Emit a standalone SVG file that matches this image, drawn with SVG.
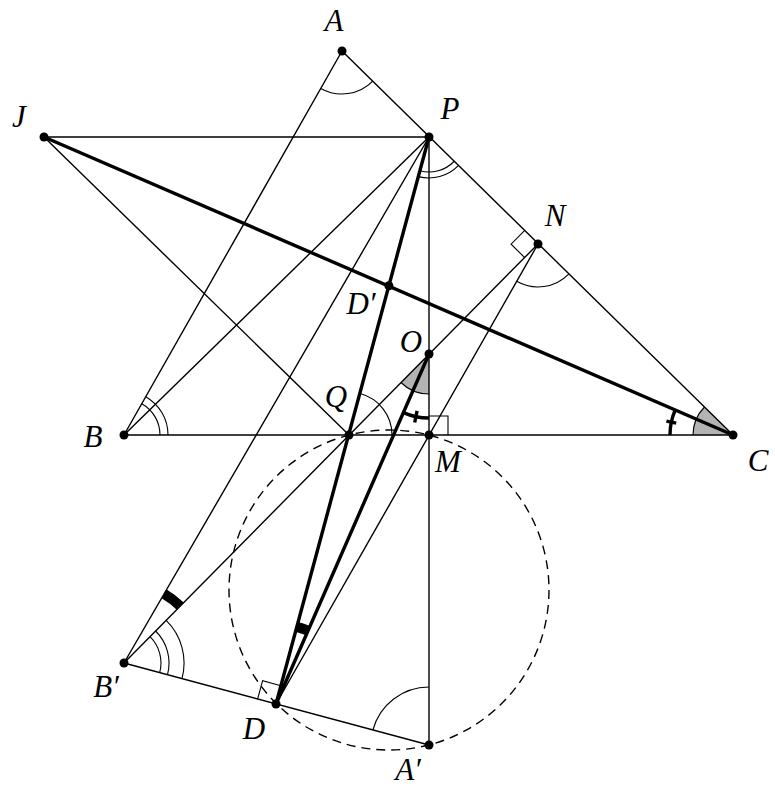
<svg xmlns="http://www.w3.org/2000/svg" width="775" height="790" viewBox="0 0 775 790">
<style>
.thin{stroke:#000;stroke-width:1.4;fill:none;stroke-linecap:round}
.thick{stroke:#000;stroke-width:3.4;fill:none;stroke-linecap:round}
.arc{stroke:#000;stroke-width:1.1;fill:none}
.band{stroke:#000;stroke-width:10;fill:none}
.tarc{stroke:#000;stroke-width:3.4;fill:none}
.gray{fill:#b3b3b3;stroke:none}
.dash{stroke:#000;stroke-width:1.4;fill:none;stroke-dasharray:9 6}
.pt{fill:#000}
.lbl{font-family:"Liberation Serif","DejaVu Serif",serif;font-style:italic;font-size:31px;fill:#000;text-anchor:middle}
</style>
<rect width="775" height="790" fill="#fff"/>
<g id="marks">
<path class="gray" d="M429 354 L429 394 A40 40 0 0 1 400.9 382.5 Z"/>
<path class="arc" d="M429 394 A40 40 0 0 1 400.9 382.5"/>
<path class="gray" d="M733 435 L693 435 A40 40 0 0 1 704.5 407 Z"/>
<path class="arc" d="M693 435 A40 40 0 0 1 704.5 407"/>
<path class="arc" d="M372.7 81.1 A43 43 0 0 1 320.8 88.4"/>
<path class="arc" d="M454 161.5 A35 35 0 0 1 419.9 170.8"/>
<path class="arc" d="M458.3 165.7 A41 41 0 0 1 418.3 176.6"/>
<path class="arc" d="M160 435 A36 36 0 0 0 141.8 403.7"/>
<path class="arc" d="M168 435 A44 44 0 0 0 145.7 396.7"/>
<path class="arc" d="M568.7 274.1 A43 43 0 0 1 516.7 281.3"/>
<path class="arc" d="M392 435 A43 43 0 0 0 360.1 393.5"/>
<path class="arc" d="M372.9 730 A58 58 0 0 1 429 687"/>
<path class="arc" d="M159.7 672.6 A37 37 0 0 0 150 636.7"/>
<path class="arc" d="M167.5 674.6 A45 45 0 0 0 155.6 631"/>
<path class="arc" d="M182 678.6 A60 60 0 0 0 166.2 620.3"/>
<path class="band" d="M180.2 606.1 A80 80 0 0 0 164.1 593.8"/>
<path class="band" d="M308 630.7 A80 80 0 0 0 296.8 626.8"/>
<path class="tarc" d="M670 435 A63 63 0 0 1 675.2 410"/>
<path class="tarc" d="M676.2 423.2 L666.4 421.2"/>
<path class="tarc" d="M429 418 A64 64 0 0 1 403.4 412.6"/>
<path class="tarc" d="M417.1 410.8 L414.7 422.5"/>
<path class="arc" d="M524.5 230.7 L511.1 244.2 L524.6 257.5"/>
<path class="arc" d="M429 416 L448 416 L448 435"/>
<path class="arc" d="M257.6 699.1 L262.6 680.7 L280.9 685.7"/>
</g>
<g id="connectors">
<circle class="dash" cx="389" cy="590" r="160"/>
<line class="thin" x1="342" y1="51" x2="733" y2="435"/>
<line class="thin" x1="342" y1="51" x2="124" y2="435"/>
<line class="thin" x1="44" y1="137" x2="429" y2="137"/>
<line class="thin" x1="44" y1="137" x2="349" y2="435"/>
<line class="thin" x1="429" y1="137" x2="124" y2="435"/>
<line class="thin" x1="429" y1="137" x2="124" y2="663"/>
<line class="thin" x1="429" y1="137" x2="429" y2="745"/>
<line class="thin" x1="124" y1="435" x2="733" y2="435"/>
<line class="thin" x1="124" y1="663" x2="538" y2="244"/>
<line class="thin" x1="538" y1="244" x2="276" y2="704"/>
<line class="thin" x1="124" y1="663" x2="429" y2="745"/>
<line class="thick" x1="44" y1="137" x2="733" y2="435"/>
<line class="thick" x1="429" y1="137" x2="276" y2="704"/>
<line class="thick" x1="429" y1="354" x2="276" y2="704"/>
</g>
<g id="A"><circle class="pt" cx="342" cy="51" r="4.5"/><text class="lbl" x="334" y="31">A</text></g>
<g id="P"><circle class="pt" cx="429" cy="137" r="4.5"/><text class="lbl" x="450" y="119">P</text></g>
<g id="J"><circle class="pt" cx="44" cy="137" r="4.5"/><text class="lbl" x="19" y="127">J</text></g>
<g id="N"><circle class="pt" cx="538" cy="244" r="4.5"/><text class="lbl" x="555" y="226">N</text></g>
<g id="Dp"><circle class="pt" cx="388.9" cy="285.8" r="4.5"/><text class="lbl" x="361" y="314">D′</text></g>
<g id="O"><circle class="pt" cx="429" cy="354" r="4.5"/><text class="lbl" x="411" y="352">O</text></g>
<g id="Q"><circle class="pt" cx="349" cy="435" r="4.5"/><text class="lbl" x="336" y="407">Q</text></g>
<g id="B"><circle class="pt" cx="124" cy="435" r="4.5"/><text class="lbl" x="93" y="447">B</text></g>
<g id="M"><circle class="pt" cx="429" cy="435" r="4.5"/><text class="lbl" x="448" y="472">M</text></g>
<g id="C"><circle class="pt" cx="733" cy="435" r="4.5"/><text class="lbl" x="758" y="471">C</text></g>
<g id="Bp"><circle class="pt" cx="124" cy="663" r="4.5"/><text class="lbl" x="106" y="697">B′</text></g>
<g id="D"><circle class="pt" cx="276" cy="704" r="4.5"/><text class="lbl" x="254" y="739">D</text></g>
<g id="Ap"><circle class="pt" cx="429" cy="745" r="4.5"/><text class="lbl" x="408" y="780">A′</text></g>
</svg>
